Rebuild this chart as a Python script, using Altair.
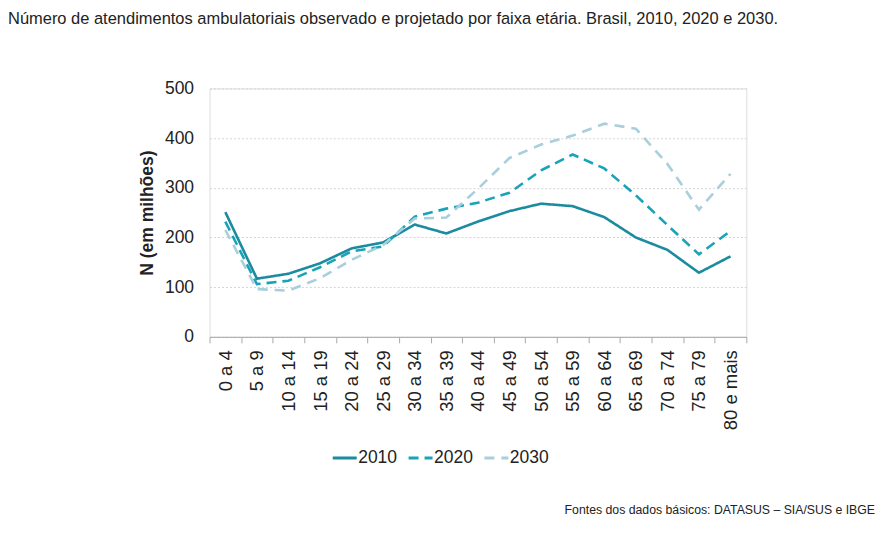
import altair as alt
import pandas as pd

categories = ["0 a 4", "5 a 9", "10 a 14", "15 a 19", "20 a 24", "25 a 29", "30 a 34",
              "35 a 39", "40 a 44", "45 a 49", "50 a 54", "55 a 59", "60 a 64", "65 a 69",
              "70 a 74", "75 a 79", "80 e mais"]
s2010 = [251, 117, 127, 148, 178, 190, 226, 208, 232, 253, 268, 263, 241, 200, 175, 129, 162]
s2020 = [232, 106, 113, 140, 172, 182, 242, 258, 270, 290, 335, 367, 339, 285, 225, 166, 213]
s2030 = [215, 96, 93, 118, 155, 185, 238, 240, 298, 360, 387, 405, 429, 419, 348, 256, 328]
series = ["2010", "2020", "2030"]
colors = ["#1b8b9f", "#19a3b9", "#a8cfdb"]
dashes = [[1, 0], [10, 6], [10, 7]]

title_text = "Número de atendimentos ambulatoriais observado e projetado por faixa etária. Brasil, 2010, 2020 e 2030."
source_text = "Fontes dos dados básicos: DATASUS – SIA/SUS e IBGE"

rows = []
for name, vals in zip(series, [s2010, s2020, s2030]):
    for c, v in zip(categories, vals):
        rows.append({"faixa": c, "ano": name, "valor": v})
df = pd.DataFrame(rows)

FONT = "Liberation Sans"

legend_cfg = dict(title=None, orient="none", legendX=122, legendY=357,
                  direction="horizontal", symbolType="stroke",
                  symbolSize=576, symbolStrokeWidth=3,
                  labelFontSize=17.5, labelFont=FONT, labelColor="#222",
                  columnPadding=5, labelOffset=0)

lines = alt.Chart(df).mark_line(strokeWidth=2.6).encode(
    x=alt.X("faixa:N", sort=categories, bandPosition=0.5,
            scale=alt.Scale(type="band", paddingInner=0, paddingOuter=0),
            axis=alt.Axis(title=None, labelAngle=-90, labelFontSize=18.5, labelColor="#222",
                          labelFont=FONT, tickBand="extent", tickColor="#aaa", tickSize=6,
                          domainColor="#aaa", labelPadding=7, grid=False,
                          labelAlign="right", labelBaseline="middle")),
    y=alt.Y("valor:Q", scale=alt.Scale(domain=[0, 500]),
            axis=alt.Axis(values=[0, 100, 200, 300, 400, 500], title="N (em milhões)",
                          titleFontSize=17.5, titleFont=FONT, titleFontWeight="bold",
                          titleColor="#222", titlePadding=8,
                          labelFontSize=17.5, labelColor="#222", labelFont=FONT,
                          domain=False, ticks=False, labelPadding=16,
                          grid=True, gridColor="#d4d4d4", gridDash=[2, 2], gridWidth=1)),
    color=alt.Color("ano:N", scale=alt.Scale(domain=series, range=colors),
                    legend=alt.Legend(**legend_cfg)),
    strokeDash=alt.StrokeDash("ano:N", scale=alt.Scale(domain=series, range=dashes),
                              legend=alt.Legend(**legend_cfg)),
)

title_mark = alt.Chart(pd.DataFrame({"t": [title_text]})).mark_text(
    align="left", baseline="middle", fontSize=16.5, font=FONT, color="#222"
).encode(text="t:N", x=alt.value(-202), y=alt.value(-70))

source_mark = alt.Chart(pd.DataFrame({"t": [source_text]})).mark_text(
    align="right", baseline="middle", fontSize=12.3, font=FONT, color="#222"
).encode(text="t:N", x=alt.value(667), y=alt.value(423))

chart = alt.layer(lines, title_mark, source_mark).properties(
    width=538, height=249,
    padding={"left": 202, "top": 80, "right": 140, "bottom": 180},
    autosize=alt.AutoSizeParams(type="none"),
).configure_view(fill="#efefef", stroke=None).configure(background="white")

chart.save("out.html", embed_options={"renderer": "svg", "actions": False})
